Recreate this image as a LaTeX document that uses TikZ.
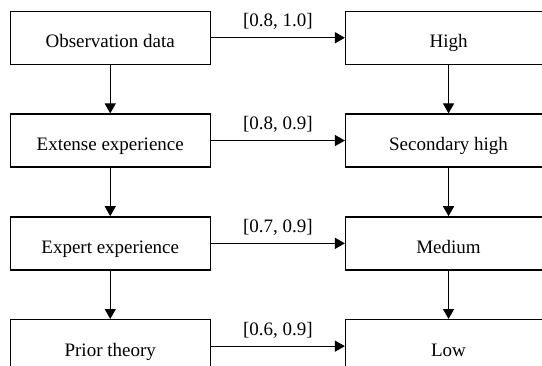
\documentclass[tikz,border=0pt]{standalone}
\usepackage{fontspec}
\setmainfont{Liberation Serif}
\usetikzlibrary{arrows.meta, matrix, positioning}

\begin{document}
\begin{tikzpicture}[x=1pt, y=1pt,
  font=\fontsize{19pt}{23pt}\selectfont,
  source/.style={rectangle, draw=black, line width=1.3pt, minimum width=200pt,
    minimum height=53pt, inner sep=0pt, text height=20pt, text depth=0pt,
    anchor=center},
  %
  level/.style={rectangle, draw=black, line width=1.3pt, minimum width=206pt,
    minimum height=53pt, inner sep=0pt, text height=20pt, text depth=0pt,
    anchor=center},
  %
  grade/.style={midway, anchor=base, yshift=11pt, inner sep=0pt}
  ]

  \useasboundingbox (0,0) rectangle (542,365);
  \clip (0,0) rectangle (542,365);

  \tikzset{every path/.style={line width=1.2pt}}
  \tikzset{>={Triangle[length=10pt, width=11pt]}}

  \begin{scope}
    \matrix [matrix of nodes, column sep=134pt, row sep=48.5pt, inner sep=0pt,
      anchor=north west] (ladder) at (9,355) {
    %%%%%%%%%%%%%%%%%%%%%%%%%%%%%%%
    \node [source] (obs) {Observation data}; &
    \node [level] (high) {High}; \\
    %%%%%%%%%%%%%%%%%%%%%%%%%%%%%%%
    \node [source] (ext) {Extense experience}; &
    \node [level] (sechigh) {Secondary high}; \\
    %%%%%%%%%%%%%%%%%%%%%%%%%%%%%%%
    \node [source] (expert) {Expert experience}; &
    \node [level] (medium) {Medium}; \\
    %%%%%%%%%%%%%%%%%%%%%%%%%%%%%%%
    \node [source] (prior) {Prior theory}; &
    \node [level] (low) {Low}; \\
  };
  \end{scope}

  \begin{scope}
    \draw [->] (obs) -- (high) node [grade] {[0.8, 1.0]};
    \draw [->] (ext) -- (sechigh) node [grade] {[0.8, 0.9]};
    \draw [->] (expert) -- (medium) node [grade] {[0.7, 0.9]};
    \draw [->] (prior) -- (low) node [grade] {[0.6, 0.9]};
    %
    \draw [->] (obs) -- (ext);
    \draw [->] (ext) -- (expert);
    \draw [->] (expert) -- (prior);
    \draw [->] (high) -- (sechigh);
    \draw [->] (sechigh) -- (medium);
    \draw [->] (medium) -- (low);
  \end{scope}

\end{tikzpicture}
\end{document}
